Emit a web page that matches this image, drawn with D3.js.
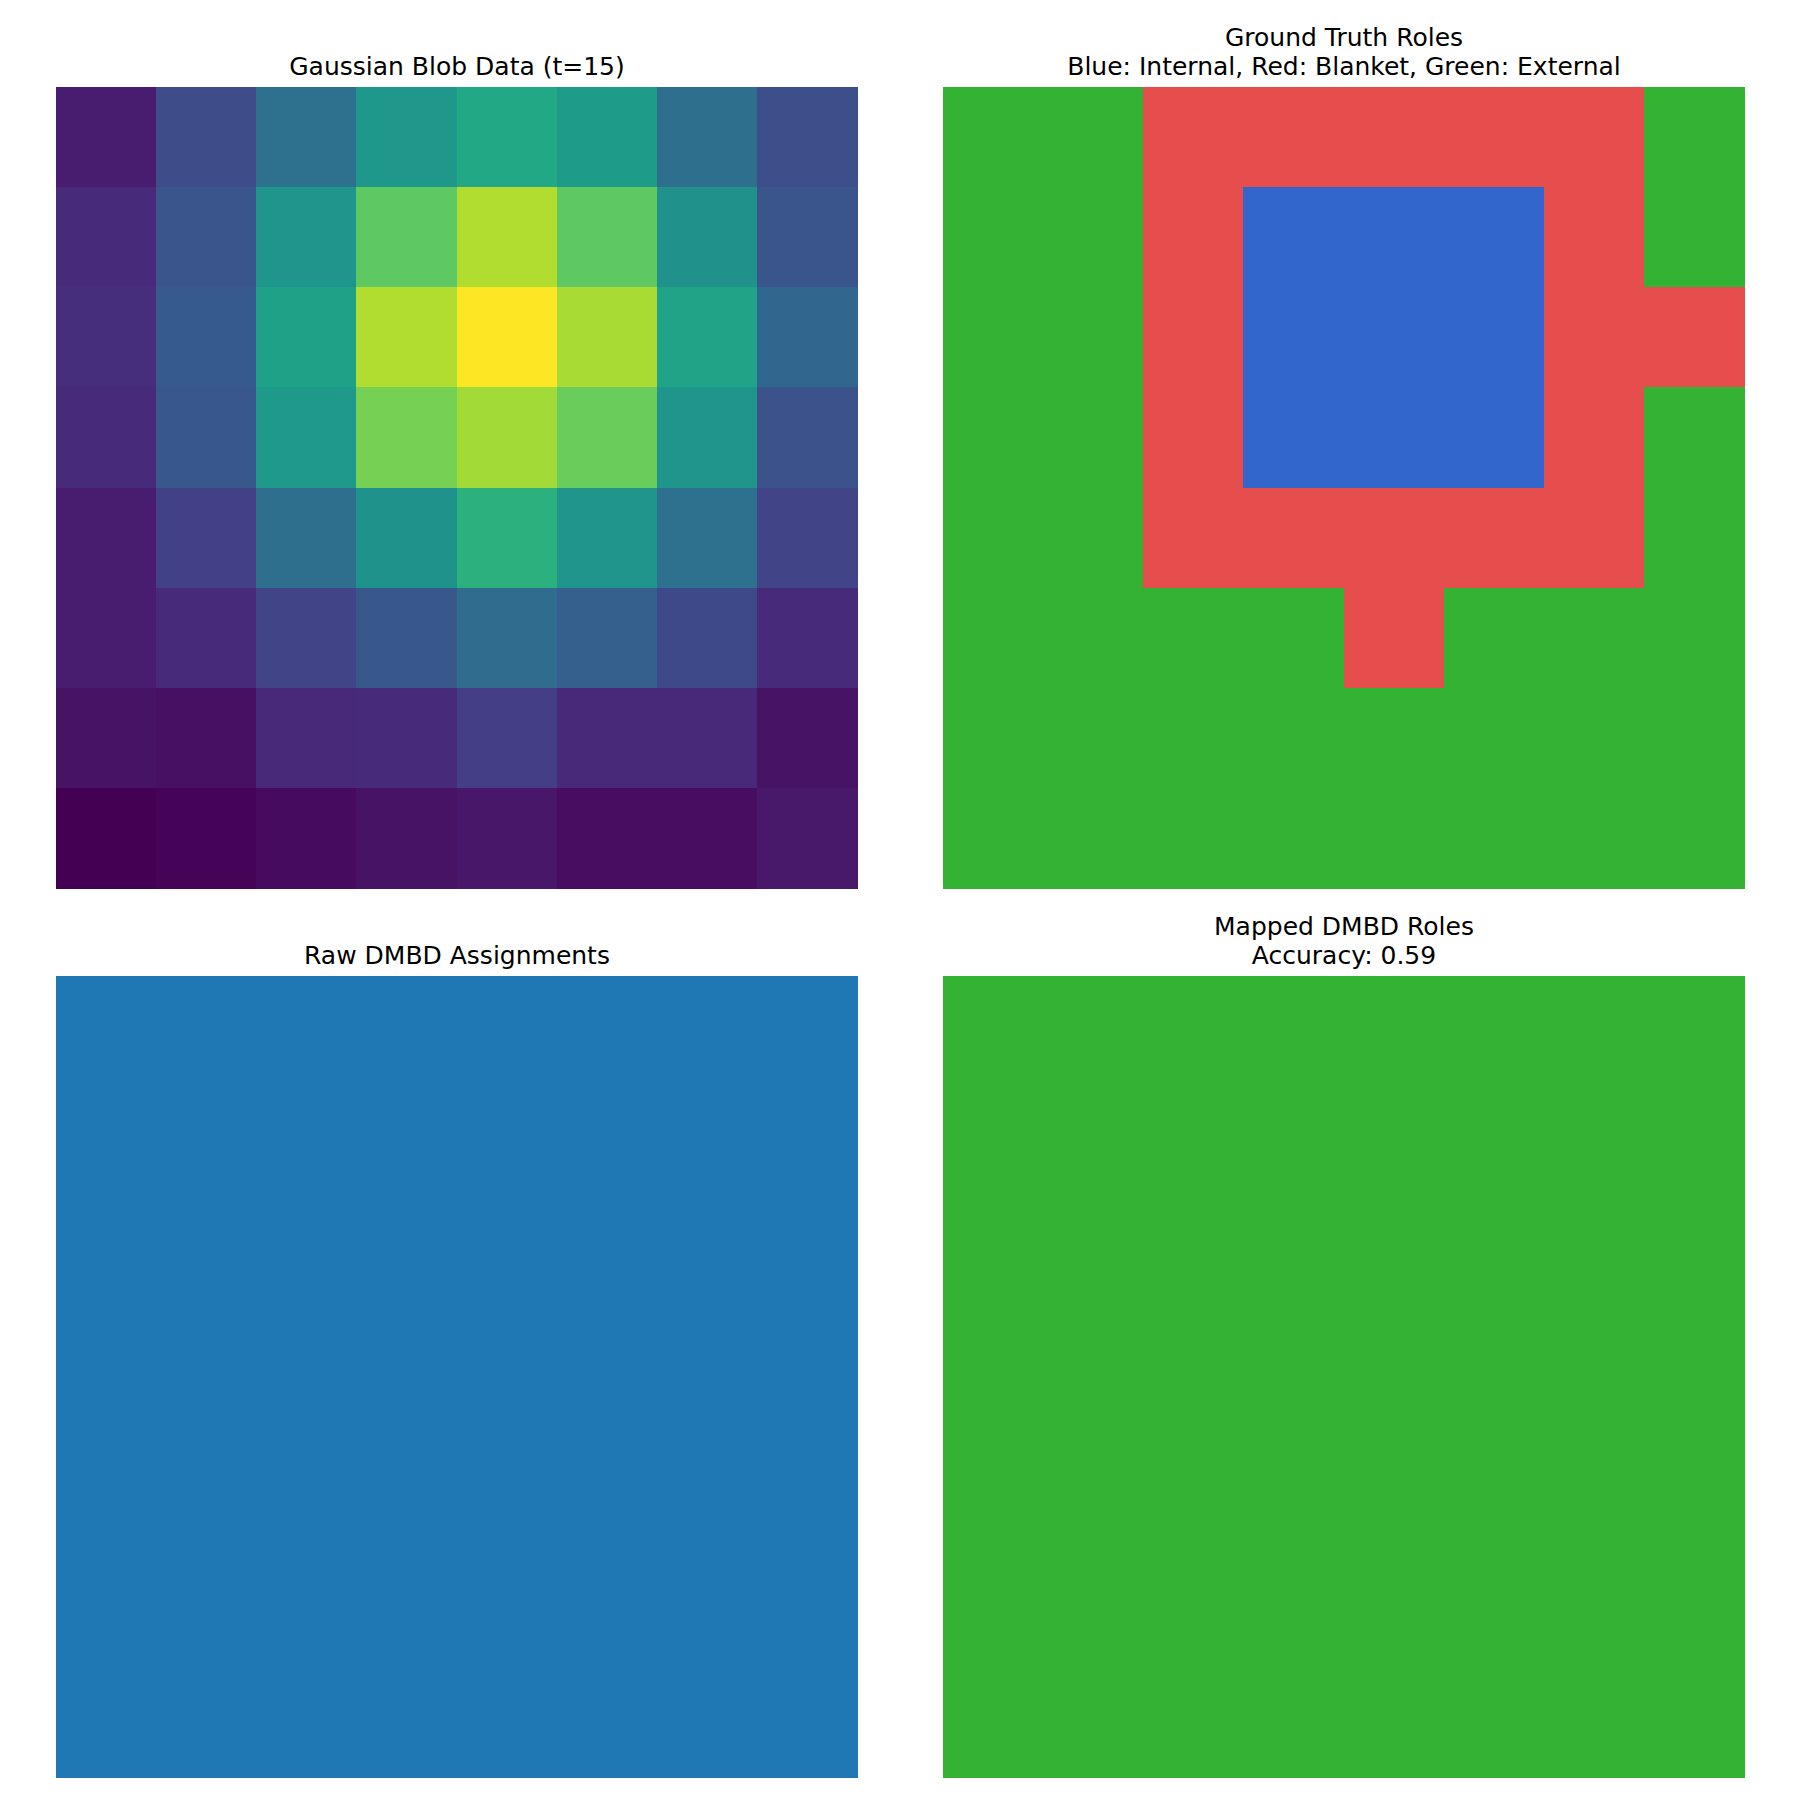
<!DOCTYPE html>
<html><head><meta charset="utf-8">
<script src="https://cdn.jsdelivr.net/npm/d3@7"></script>
<style>body{margin:0;background:#fff}svg{display:block}text{font-family:"DejaVu Sans",sans-serif;fill:#000}</style>
</head><body>
<script>
// Gaussian blob intensity (8x8), row-major, top row first
const blobRows = [
  [0.08,0.23,0.37,0.53,0.60,0.55,0.36,0.24],
  [0.12,0.26,0.52,0.75,0.88,0.75,0.50,0.26],
  [0.13,0.28,0.57,0.88,1.00,0.87,0.58,0.33],
  [0.12,0.27,0.54,0.79,0.86,0.77,0.52,0.25],
  [0.08,0.19,0.36,0.51,0.64,0.52,0.37,0.20],
  [0.08,0.12,0.20,0.27,0.35,0.30,0.22,0.12],
  [0.05,0.04,0.11,0.12,0.18,0.11,0.11,0.05],
  [0.00,0.01,0.03,0.05,0.06,0.035,0.035,0.065]
];
// Ground truth roles: 0 internal, 1 blanket, 2 external
const truthRows = [
  [2,2,1,1,1,1,1,2],
  [2,2,1,0,0,0,1,2],
  [2,2,1,0,0,0,1,1],
  [2,2,1,0,0,0,1,2],
  [2,2,1,1,1,1,1,2],
  [2,2,2,2,1,2,2,2],
  [2,2,2,2,2,2,2,2],
  [2,2,2,2,2,2,2,2]
];
// Raw DMBD assignments (single cluster everywhere)
const rawRows = Array.from({length:8}, () => [0,0,0,0,0,0,0,0]);
// Mapped DMBD roles (all external)
const mappedRows = Array.from({length:8}, () => [2,2,2,2,2,2,2,2]);
const roleColors = ["#3366cc","#e64d4d","#33b233"];
const rawColors = ["#1f77b4"];
const titles = [
  ["Gaussian Blob Data (t=15)"],
  ["Ground Truth Roles","Blue: Internal, Red: Blanket, Green: External"],
  ["Raw DMBD Assignments"],
  ["Mapped DMBD Roles","Accuracy: 0.59"]
];

const W = 1800, H = 1800;
const svg = d3.select("body").append("svg").attr("width", W).attr("height", H);
const size = 802;
const panels = [
  {x:56, y:87, data:blobRows, color: (() => { const s = d3.scaleSequential(d3.interpolateViridis).domain(d3.extent(blobRows.flat())); return v => s(v); })()},
  {x:943, y:87, data:truthRows, color: v => roleColors[v]},
  {x:56, y:976, data:rawRows, color: v => rawColors[v]},
  {x:943, y:976, data:mappedRows, color: v => roleColors[v]}
];
panels.forEach((p, i) => {
  const idx = d3.range(8);
  const xs = d3.scaleBand().domain(idx).range([p.x, p.x + size]);
  const ys = d3.scaleBand().domain(idx).range([p.y, p.y + size]);
  const cells = [];
  p.data.forEach((row, r) => row.forEach((v, c) => cells.push({r, c, v})));
  svg.append("g").selectAll("rect").data(cells).join("rect")
    .attr("x", d => Math.floor(xs(d.c)))
    .attr("y", d => Math.floor(ys(d.r)))
    .attr("width", d => Math.ceil(xs(d.c) + xs.bandwidth()) - Math.floor(xs(d.c)))
    .attr("height", d => Math.ceil(ys(d.r) + ys.bandwidth()) - Math.floor(ys(d.r)))
    .attr("fill", d => p.color(d.v))
    .attr("shape-rendering", "crispEdges");
  const lines = titles[i];
  const base = p.y - 12.5;
  const t = svg.append("text").attr("text-anchor", "middle").attr("font-size", 25);
  lines.forEach((l, k) => {
    t.append("tspan").attr("x", p.x + size / 2)
      .attr("y", base - (lines.length - 1 - k) * 29).text(l);
  });
});
</script>
</body></html>
